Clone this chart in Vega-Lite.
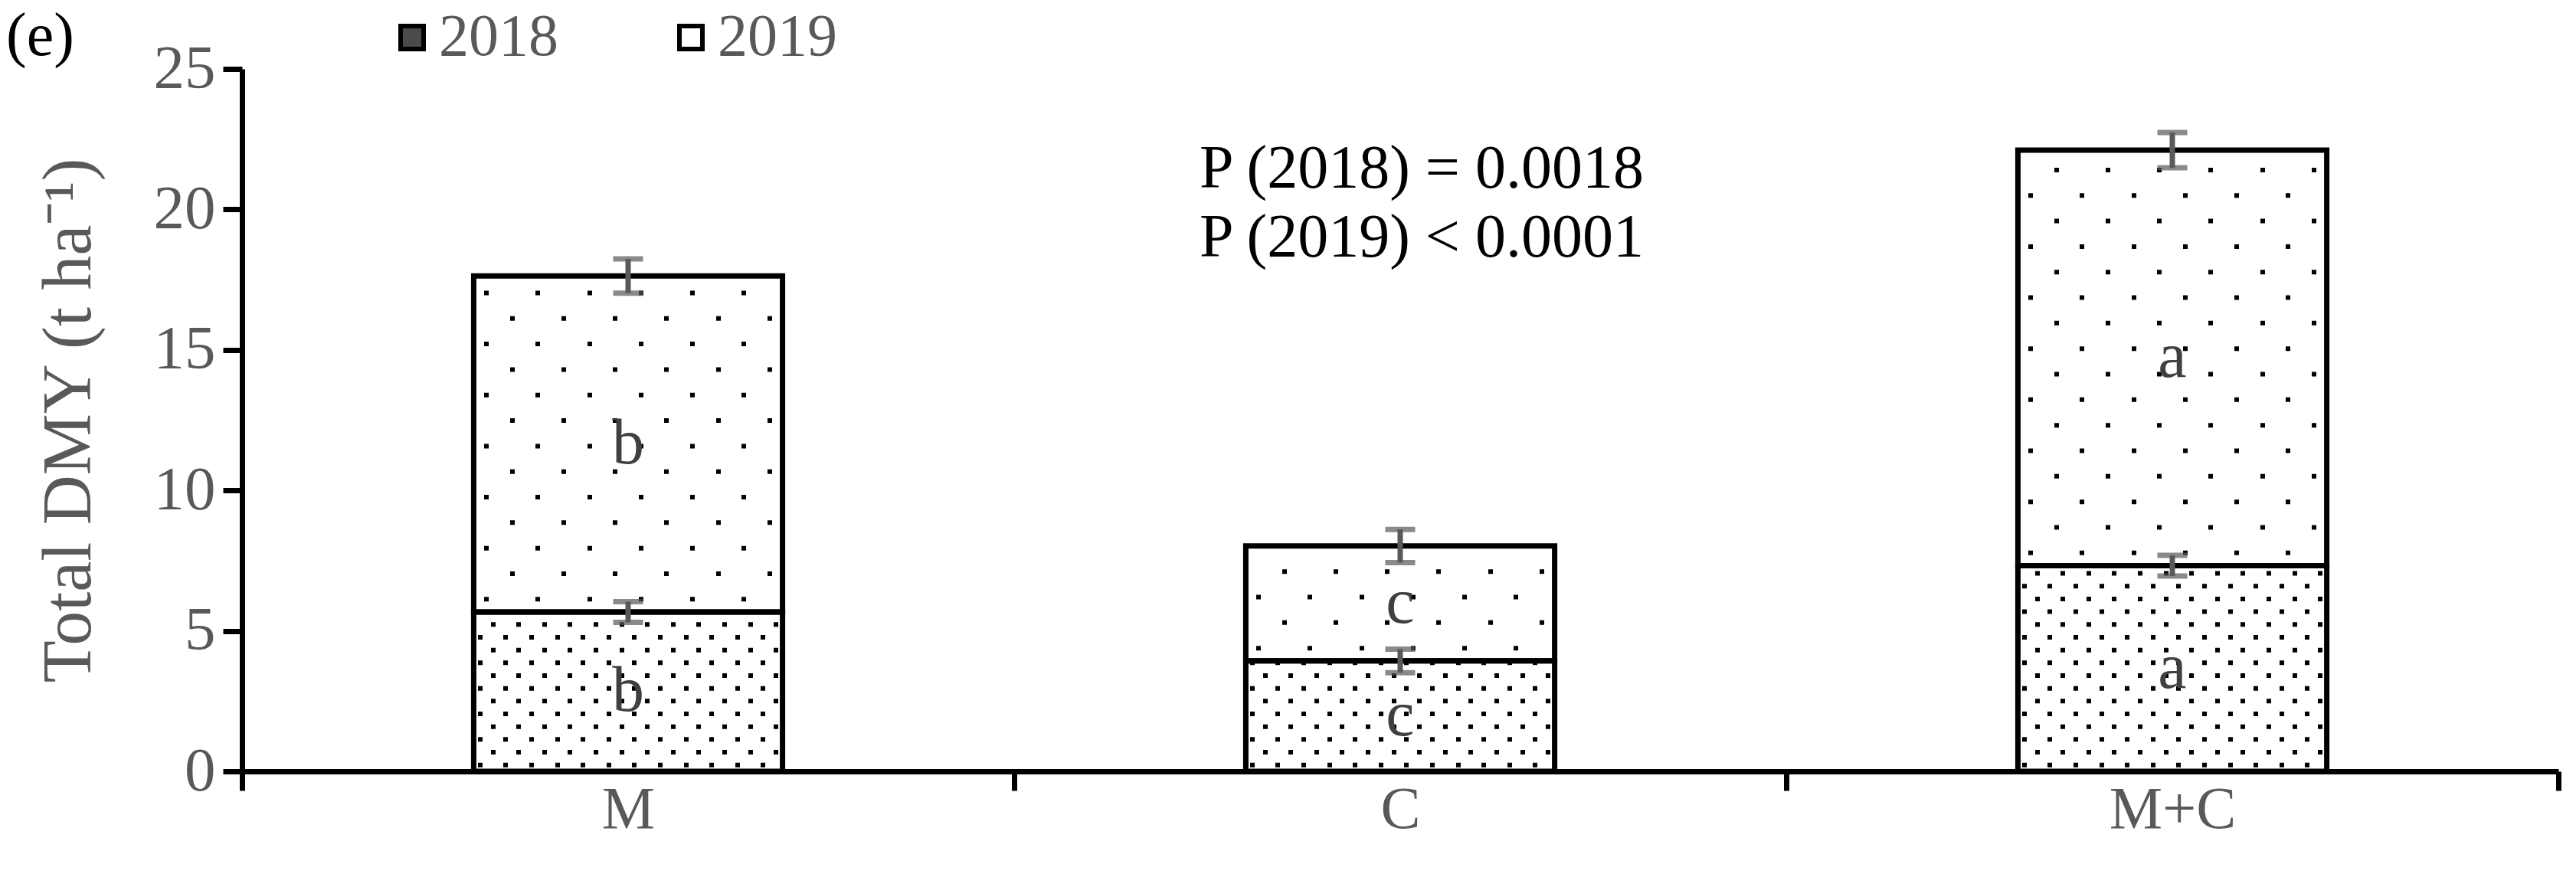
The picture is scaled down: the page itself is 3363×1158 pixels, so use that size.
{
  "$schema": "https://vega.github.io/schema/vega-lite/v6.json",
  "width": 3024,
  "height": 917,
  "autosize": {"type": "none"},
  "padding": {"left": 316, "top": 90, "right": 23, "bottom": 151},
  "background": "white",
  "config": {
    "view": {"stroke": null},
    "font": "Liberation Serif",
    "text": {"font": "Liberation Serif"}
  },
  "title": {"text": "(e)", "anchor": "start", "frame": "group", "orient": "top", "dx": -308, "dy": 95, "offset": 0, "fontSize": 80, "fontWeight": "normal", "color": "black", "font": "Liberation Serif"},
  "data": {
    "values": [
      {"t": "M", "year": "2018", "v": 5.67, "err": 0.37, "lab": "b"},
      {"t": "M", "year": "2019", "v": 11.96, "err": 0.61, "lab": "b"},
      {"t": "C", "year": "2018", "v": 3.93, "err": 0.42, "lab": "c"},
      {"t": "C", "year": "2019", "v": 4.09, "err": 0.59, "lab": "c"},
      {"t": "M+C", "year": "2018", "v": 7.32, "err": 0.37, "lab": "a"},
      {"t": "M+C", "year": "2019", "v": 14.79, "err": 0.63, "lab": "a"}
    ]
  },
  "transform": [
    {"stack": "v", "groupby": ["t"], "sort": [{"field": "year", "order": "ascending"}], "as": ["v0", "v1"]}
  ],
  "encoding": {
    "x": {
      "field": "t", "type": "nominal", "sort": ["M", "C", "M+C"],
      "scale": {"paddingInner": 0, "paddingOuter": 0},
      "axis": {"title": null, "labelAngle": 0, "labelFontSize": 78, "labelColor": "#595959", "labelFont": "Liberation Serif", "tickSize": 25, "tickWidth": 7, "tickColor": "black", "domainWidth": 7, "domainColor": "black", "tickBand": "extent", "labelPadding": -14, "zindex": 1}
    }
  },
  "layer": [
    {
      "mark": {"type": "bar", "width": {"band": 0.4}},
      "encoding": {
        "y": {"field": "v0", "type": "quantitative", "title": "Total DMY (t ha⁻¹)",
          "scale": {"domain": [0, 25], "nice": false},
          "axis": {"values": [0, 5, 10, 15, 20, 25], "grid": false, "tickSize": 25, "tickWidth": 7, "tickColor": "black", "domainWidth": 7, "domainColor": "black", "labelFontSize": 81, "labelColor": "#595959", "labelFont": "Liberation Serif", "labelPadding": 10, "titleFontSize": 90, "titleColor": "#595959", "titleFont": "Liberation Serif", "titleFontWeight": "normal", "titlePadding": 64, "zindex": 1}},
        "y2": {"field": "v1"},
        "fill": {"field": "year", "type": "nominal", "scale": {"domain": ["2018", "2019"], "range": ["#4a4a4a", "#ffffff"]},
          "legend": {"title": null, "orient": "none", "legendX": 183, "legendY": -80, "direction": "horizontal", "symbolType": "square", "symbolSize": 900, "symbolStrokeWidth": 6, "symbolStrokeColor": "black", "symbolOpacity": 1, "labelFontSize": 78, "labelColor": "#595959", "labelFont": "Liberation Serif", "labelOffset": -4, "columnPadding": 134, "padding": 0}}
      }
    },
    {
      "mark": {"type": "bar", "width": {"band": 0.4}, "fill": "white"},
      "encoding": {"y": {"field": "v0", "type": "quantitative", "title": "Total DMY (t ha⁻¹)"}, "y2": {"field": "v1"}}
    },
    {
      "transform": [{"filter": "datum.year == '2018'"}],
      "mark": {"type": "rule", "strokeWidth": 403.2, "strokeCap": "butt", "color": "black", "strokeDash": [16.67, 16.67]},
      "encoding": {"y": {"field": "v0", "type": "quantitative", "title": "Total DMY (t ha⁻¹)"}, "y2": {"field": "v1"}}
    },
    {
      "transform": [{"filter": "datum.year == '2018'"}],
      "mark": {"type": "bar", "width": {"band": 0.4}, "blend": "difference", "fill": {"gradient": "linear", "x1": 0, "y1": 0, "x2": 1, "y2": 0, "stops": [
        {"offset": 0, "color": "#000"},
        {"offset": 0.041667, "color": "#000"}, {"offset": 0.041667, "color": "#fff"},
        {"offset": 0.083333, "color": "#fff"}, {"offset": 0.083333, "color": "#000"},
        {"offset": 0.125, "color": "#000"}, {"offset": 0.125, "color": "#fff"},
        {"offset": 0.166667, "color": "#fff"}, {"offset": 0.166667, "color": "#000"},
        {"offset": 0.208333, "color": "#000"}, {"offset": 0.208333, "color": "#fff"},
        {"offset": 0.25, "color": "#fff"}, {"offset": 0.25, "color": "#000"},
        {"offset": 0.291667, "color": "#000"}, {"offset": 0.291667, "color": "#fff"},
        {"offset": 0.333333, "color": "#fff"}, {"offset": 0.333333, "color": "#000"},
        {"offset": 0.375, "color": "#000"}, {"offset": 0.375, "color": "#fff"},
        {"offset": 0.416667, "color": "#fff"}, {"offset": 0.416667, "color": "#000"},
        {"offset": 0.458333, "color": "#000"}, {"offset": 0.458333, "color": "#fff"},
        {"offset": 0.5, "color": "#fff"}, {"offset": 0.5, "color": "#000"},
        {"offset": 0.541667, "color": "#000"}, {"offset": 0.541667, "color": "#fff"},
        {"offset": 0.583333, "color": "#fff"}, {"offset": 0.583333, "color": "#000"},
        {"offset": 0.625, "color": "#000"}, {"offset": 0.625, "color": "#fff"},
        {"offset": 0.666667, "color": "#fff"}, {"offset": 0.666667, "color": "#000"},
        {"offset": 0.708333, "color": "#000"}, {"offset": 0.708333, "color": "#fff"},
        {"offset": 0.75, "color": "#fff"}, {"offset": 0.75, "color": "#000"},
        {"offset": 0.791667, "color": "#000"}, {"offset": 0.791667, "color": "#fff"},
        {"offset": 0.833333, "color": "#fff"}, {"offset": 0.833333, "color": "#000"},
        {"offset": 0.875, "color": "#000"}, {"offset": 0.875, "color": "#fff"},
        {"offset": 0.916667, "color": "#fff"}, {"offset": 0.916667, "color": "#000"},
        {"offset": 0.958333, "color": "#000"}, {"offset": 0.958333, "color": "#fff"},
        {"offset": 1, "color": "#fff"}
      ]}},
      "encoding": {"y": {"field": "v0", "type": "quantitative", "title": "Total DMY (t ha⁻¹)"}, "y2": {"field": "v1"}}
    },
    {
      "transform": [{"filter": "datum.year == '2018'"}],
      "mark": {"type": "rule", "strokeWidth": 403.2, "strokeCap": "butt", "color": "white", "strokeDash": [10.67, 6], "strokeDashOffset": 5.33},
      "encoding": {"y": {"field": "v0", "type": "quantitative", "title": "Total DMY (t ha⁻¹)"}, "y2": {"field": "v1"}}
    },
    {
      "transform": [{"filter": "datum.year == '2018'"}],
      "mark": {"type": "bar", "width": {"band": 0.4}, "fill": {"gradient": "linear", "x1": 0, "y1": 0, "x2": 1, "y2": 0, "stops": [
        {"offset": 0.013333, "color": "#fff"}, {"offset": 0.013333, "color": "rgba(255,255,255,0)"}, {"offset": 0.028333, "color": "rgba(255,255,255,0)"}, {"offset": 0.028333, "color": "#fff"},
        {"offset": 0.055, "color": "#fff"}, {"offset": 0.055, "color": "rgba(255,255,255,0)"}, {"offset": 0.07, "color": "rgba(255,255,255,0)"}, {"offset": 0.07, "color": "#fff"},
        {"offset": 0.096667, "color": "#fff"}, {"offset": 0.096667, "color": "rgba(255,255,255,0)"}, {"offset": 0.111667, "color": "rgba(255,255,255,0)"}, {"offset": 0.111667, "color": "#fff"},
        {"offset": 0.138333, "color": "#fff"}, {"offset": 0.138333, "color": "rgba(255,255,255,0)"}, {"offset": 0.153333, "color": "rgba(255,255,255,0)"}, {"offset": 0.153333, "color": "#fff"},
        {"offset": 0.18, "color": "#fff"}, {"offset": 0.18, "color": "rgba(255,255,255,0)"}, {"offset": 0.195, "color": "rgba(255,255,255,0)"}, {"offset": 0.195, "color": "#fff"},
        {"offset": 0.221667, "color": "#fff"}, {"offset": 0.221667, "color": "rgba(255,255,255,0)"}, {"offset": 0.236667, "color": "rgba(255,255,255,0)"}, {"offset": 0.236667, "color": "#fff"},
        {"offset": 0.263333, "color": "#fff"}, {"offset": 0.263333, "color": "rgba(255,255,255,0)"}, {"offset": 0.278333, "color": "rgba(255,255,255,0)"}, {"offset": 0.278333, "color": "#fff"},
        {"offset": 0.305, "color": "#fff"}, {"offset": 0.305, "color": "rgba(255,255,255,0)"}, {"offset": 0.32, "color": "rgba(255,255,255,0)"}, {"offset": 0.32, "color": "#fff"},
        {"offset": 0.346667, "color": "#fff"}, {"offset": 0.346667, "color": "rgba(255,255,255,0)"}, {"offset": 0.361667, "color": "rgba(255,255,255,0)"}, {"offset": 0.361667, "color": "#fff"},
        {"offset": 0.388333, "color": "#fff"}, {"offset": 0.388333, "color": "rgba(255,255,255,0)"}, {"offset": 0.403333, "color": "rgba(255,255,255,0)"}, {"offset": 0.403333, "color": "#fff"},
        {"offset": 0.43, "color": "#fff"}, {"offset": 0.43, "color": "rgba(255,255,255,0)"}, {"offset": 0.445, "color": "rgba(255,255,255,0)"}, {"offset": 0.445, "color": "#fff"},
        {"offset": 0.471667, "color": "#fff"}, {"offset": 0.471667, "color": "rgba(255,255,255,0)"}, {"offset": 0.486667, "color": "rgba(255,255,255,0)"}, {"offset": 0.486667, "color": "#fff"},
        {"offset": 0.513333, "color": "#fff"}, {"offset": 0.513333, "color": "rgba(255,255,255,0)"}, {"offset": 0.528333, "color": "rgba(255,255,255,0)"}, {"offset": 0.528333, "color": "#fff"},
        {"offset": 0.555, "color": "#fff"}, {"offset": 0.555, "color": "rgba(255,255,255,0)"}, {"offset": 0.57, "color": "rgba(255,255,255,0)"}, {"offset": 0.57, "color": "#fff"},
        {"offset": 0.596667, "color": "#fff"}, {"offset": 0.596667, "color": "rgba(255,255,255,0)"}, {"offset": 0.611667, "color": "rgba(255,255,255,0)"}, {"offset": 0.611667, "color": "#fff"},
        {"offset": 0.638333, "color": "#fff"}, {"offset": 0.638333, "color": "rgba(255,255,255,0)"}, {"offset": 0.653333, "color": "rgba(255,255,255,0)"}, {"offset": 0.653333, "color": "#fff"},
        {"offset": 0.68, "color": "#fff"}, {"offset": 0.68, "color": "rgba(255,255,255,0)"}, {"offset": 0.695, "color": "rgba(255,255,255,0)"}, {"offset": 0.695, "color": "#fff"},
        {"offset": 0.721667, "color": "#fff"}, {"offset": 0.721667, "color": "rgba(255,255,255,0)"}, {"offset": 0.736667, "color": "rgba(255,255,255,0)"}, {"offset": 0.736667, "color": "#fff"},
        {"offset": 0.763333, "color": "#fff"}, {"offset": 0.763333, "color": "rgba(255,255,255,0)"}, {"offset": 0.778333, "color": "rgba(255,255,255,0)"}, {"offset": 0.778333, "color": "#fff"},
        {"offset": 0.805, "color": "#fff"}, {"offset": 0.805, "color": "rgba(255,255,255,0)"}, {"offset": 0.82, "color": "rgba(255,255,255,0)"}, {"offset": 0.82, "color": "#fff"},
        {"offset": 0.846667, "color": "#fff"}, {"offset": 0.846667, "color": "rgba(255,255,255,0)"}, {"offset": 0.861667, "color": "rgba(255,255,255,0)"}, {"offset": 0.861667, "color": "#fff"},
        {"offset": 0.888333, "color": "#fff"}, {"offset": 0.888333, "color": "rgba(255,255,255,0)"}, {"offset": 0.903333, "color": "rgba(255,255,255,0)"}, {"offset": 0.903333, "color": "#fff"},
        {"offset": 0.93, "color": "#fff"}, {"offset": 0.93, "color": "rgba(255,255,255,0)"}, {"offset": 0.945, "color": "rgba(255,255,255,0)"}, {"offset": 0.945, "color": "#fff"},
        {"offset": 0.971667, "color": "#fff"}, {"offset": 0.971667, "color": "rgba(255,255,255,0)"}, {"offset": 0.986667, "color": "rgba(255,255,255,0)"}, {"offset": 0.986667, "color": "#fff"}
      ]}},
      "encoding": {"y": {"field": "v0", "type": "quantitative", "title": "Total DMY (t ha⁻¹)"}, "y2": {"field": "v1"}}
    },
    {
      "transform": [{"filter": "datum.year == '2019'"}],
      "mark": {"type": "rule", "strokeWidth": 403.2, "strokeCap": "butt", "color": "black", "strokeDash": [33.33, 33.33]},
      "encoding": {"y": {"field": "v0", "type": "quantitative", "title": "Total DMY (t ha⁻¹)"}, "y2": {"field": "v1"}}
    },
    {
      "transform": [{"filter": "datum.year == '2019'"}],
      "mark": {"type": "bar", "width": {"band": 0.4}, "blend": "difference", "fill": {"gradient": "linear", "x1": 0, "y1": 0, "x2": 1, "y2": 0, "stops": [
        {"offset": 0, "color": "#000"},
        {"offset": 0.083333, "color": "#000"}, {"offset": 0.083333, "color": "#fff"},
        {"offset": 0.166667, "color": "#fff"}, {"offset": 0.166667, "color": "#000"},
        {"offset": 0.25, "color": "#000"}, {"offset": 0.25, "color": "#fff"},
        {"offset": 0.333333, "color": "#fff"}, {"offset": 0.333333, "color": "#000"},
        {"offset": 0.416667, "color": "#000"}, {"offset": 0.416667, "color": "#fff"},
        {"offset": 0.5, "color": "#fff"}, {"offset": 0.5, "color": "#000"},
        {"offset": 0.583333, "color": "#000"}, {"offset": 0.583333, "color": "#fff"},
        {"offset": 0.666667, "color": "#fff"}, {"offset": 0.666667, "color": "#000"},
        {"offset": 0.75, "color": "#000"}, {"offset": 0.75, "color": "#fff"},
        {"offset": 0.833333, "color": "#fff"}, {"offset": 0.833333, "color": "#000"},
        {"offset": 0.916667, "color": "#000"}, {"offset": 0.916667, "color": "#fff"},
        {"offset": 1, "color": "#fff"}
      ]}},
      "encoding": {"y": {"field": "v0", "type": "quantitative", "title": "Total DMY (t ha⁻¹)"}, "y2": {"field": "v1"}}
    },
    {
      "transform": [{"filter": "datum.year == '2019'"}],
      "mark": {"type": "rule", "strokeWidth": 403.2, "strokeCap": "butt", "color": "white", "strokeDash": [27.33, 6], "strokeDashOffset": 13.67},
      "encoding": {"y": {"field": "v0", "type": "quantitative", "title": "Total DMY (t ha⁻¹)"}, "y2": {"field": "v1"}}
    },
    {
      "transform": [{"filter": "datum.year == '2019'"}],
      "mark": {"type": "bar", "width": {"band": 0.4}, "fill": {"gradient": "linear", "x1": 0, "y1": 0, "x2": 1, "y2": 0, "stops": [
        {"offset": 0.034167, "color": "#fff"}, {"offset": 0.034167, "color": "rgba(255,255,255,0)"}, {"offset": 0.049167, "color": "rgba(255,255,255,0)"}, {"offset": 0.049167, "color": "#fff"},
        {"offset": 0.1175, "color": "#fff"}, {"offset": 0.1175, "color": "rgba(255,255,255,0)"}, {"offset": 0.1325, "color": "rgba(255,255,255,0)"}, {"offset": 0.1325, "color": "#fff"},
        {"offset": 0.200833, "color": "#fff"}, {"offset": 0.200833, "color": "rgba(255,255,255,0)"}, {"offset": 0.215833, "color": "rgba(255,255,255,0)"}, {"offset": 0.215833, "color": "#fff"},
        {"offset": 0.284167, "color": "#fff"}, {"offset": 0.284167, "color": "rgba(255,255,255,0)"}, {"offset": 0.299167, "color": "rgba(255,255,255,0)"}, {"offset": 0.299167, "color": "#fff"},
        {"offset": 0.3675, "color": "#fff"}, {"offset": 0.3675, "color": "rgba(255,255,255,0)"}, {"offset": 0.3825, "color": "rgba(255,255,255,0)"}, {"offset": 0.3825, "color": "#fff"},
        {"offset": 0.450833, "color": "#fff"}, {"offset": 0.450833, "color": "rgba(255,255,255,0)"}, {"offset": 0.465833, "color": "rgba(255,255,255,0)"}, {"offset": 0.465833, "color": "#fff"},
        {"offset": 0.534167, "color": "#fff"}, {"offset": 0.534167, "color": "rgba(255,255,255,0)"}, {"offset": 0.549167, "color": "rgba(255,255,255,0)"}, {"offset": 0.549167, "color": "#fff"},
        {"offset": 0.6175, "color": "#fff"}, {"offset": 0.6175, "color": "rgba(255,255,255,0)"}, {"offset": 0.6325, "color": "rgba(255,255,255,0)"}, {"offset": 0.6325, "color": "#fff"},
        {"offset": 0.700833, "color": "#fff"}, {"offset": 0.700833, "color": "rgba(255,255,255,0)"}, {"offset": 0.715833, "color": "rgba(255,255,255,0)"}, {"offset": 0.715833, "color": "#fff"},
        {"offset": 0.784167, "color": "#fff"}, {"offset": 0.784167, "color": "rgba(255,255,255,0)"}, {"offset": 0.799167, "color": "rgba(255,255,255,0)"}, {"offset": 0.799167, "color": "#fff"},
        {"offset": 0.8675, "color": "#fff"}, {"offset": 0.8675, "color": "rgba(255,255,255,0)"}, {"offset": 0.8825, "color": "rgba(255,255,255,0)"}, {"offset": 0.8825, "color": "#fff"},
        {"offset": 0.950833, "color": "#fff"}, {"offset": 0.950833, "color": "rgba(255,255,255,0)"}, {"offset": 0.965833, "color": "rgba(255,255,255,0)"}, {"offset": 0.965833, "color": "#fff"}
      ]}},
      "encoding": {"y": {"field": "v0", "type": "quantitative", "title": "Total DMY (t ha⁻¹)"}, "y2": {"field": "v1"}}
    },
    {
      "mark": {"type": "bar", "width": {"band": 0.4}, "fill": null, "fillOpacity": 0, "stroke": "black", "strokeWidth": 7},
      "encoding": {"y": {"field": "v0", "type": "quantitative", "title": "Total DMY (t ha⁻¹)"}, "y2": {"field": "v1"}}
    },
    {
      "mark": {"type": "errorbar", "color": "#595959", "thickness": 7, "size": 39, "ticks": true},
      "encoding": {"y": {"field": "v1", "type": "quantitative", "title": "Total DMY (t ha⁻¹)"}, "yError": {"field": "err"}}
    },
    {
      "transform": [{"fold": ["v0", "v1"], "as": ["k", "pos"]}],
      "mark": {"type": "text", "fontSize": 84, "color": "#404040", "baseline": "middle", "align": "center", "font": "Liberation Serif"},
      "encoding": {
        "y": {"aggregate": "mean", "field": "pos", "type": "quantitative", "title": "Total DMY (t ha⁻¹)"},
        "text": {"field": "lab", "type": "nominal"},
        "detail": {"field": "year", "type": "nominal"}
      }
    },
    {
      "data": {"values": [{"note": "p"}]},
      "mark": {"type": "text", "text": ["P (2018) = 0.0018", "P (2019) < 0.0001"], "fontSize": 80, "lineHeight": 90, "color": "black", "align": "center", "baseline": "middle", "dx": 28, "font": "Liberation Serif"},
      "encoding": {"x": {"datum": "C"}, "y": {"datum": 21.43, "type": "quantitative"}}
    }
  ]
}
